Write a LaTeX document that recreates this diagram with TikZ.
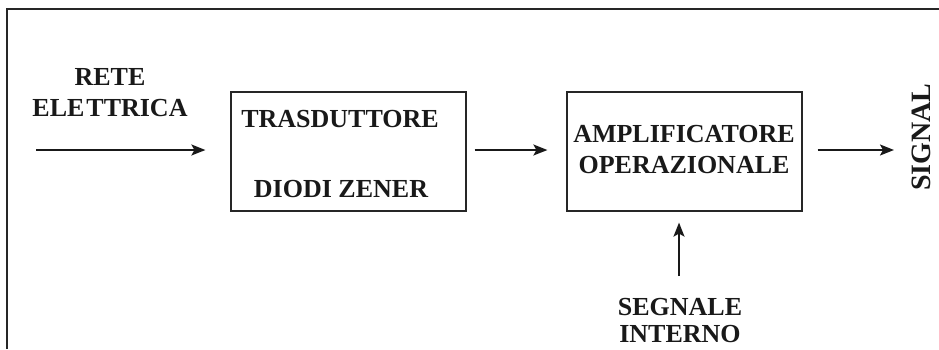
\documentclass[tikz,border=0pt]{standalone}
\usepackage{fontspec}
\setmainfont{Liberation Serif}
\usetikzlibrary{arrows.meta, positioning}
\tikzset{
  block/.style={rectangle, draw=black!85, line width=1.2pt, minimum width=235pt,
    minimum height=119pt, inner sep=0pt},
  btext/.style={font=\fontsize{26}{31}\selectfont\bfseries, align=center, inner sep=0pt, text=black!90},
  arrow/.style={-{Stealth[length=14pt, width=11pt, inset=3pt]}, line width=1.8pt, black!90},
}
\begin{document}
\begin{tikzpicture}[x=1pt, y=-1pt]
\useasboundingbox (0,0) rectangle (939,349);
% cornice
\draw[line width=1.3pt, black!85] (7,349) -- (7,9) -- (939,9);

\node[block] (trasd) at (348.5,151.5) {};
\node[block] (ampl) at (684.5,151.5) {};
\node[btext, anchor=base] (tr) at (340,127) {TRASDUTTORE};
\node[btext, anchor=base] (dz) at (341,197) {DIODI ZENER};
\node[btext] (op) at (684,149.5) {AMPLIFICATORE\\OPERAZIONALE};

\node[btext] (rete) at (110,93) {RETE\\ELE\kern2pt TTRICA};
\node[btext, font=\fontsize{26}{27}\selectfont\bfseries] (interno) at (680,320.5) {SEGNALE\\INTERNO};
\node[btext, rotate=90, font=\fontsize{28}{31}\selectfont\bfseries] (signal) at (921,137) {SIGNAL};

\coordinate (in) at (36,150);
\coordinate (out) at (894,150);
\coordinate (up) at (679,276);

\draw[arrow, shorten >=25pt] (in) -- (trasd.west |- in);
\draw[arrow, shorten <=8pt, shorten >=19pt] (trasd.east |- in) -- (ampl.west |- in);
\draw[arrow, shorten <=15pt] (ampl.east |- out) -- (out);
\draw[arrow, shorten >=11pt] (up) -- (up |- ampl.south);
\end{tikzpicture}
\end{document}
